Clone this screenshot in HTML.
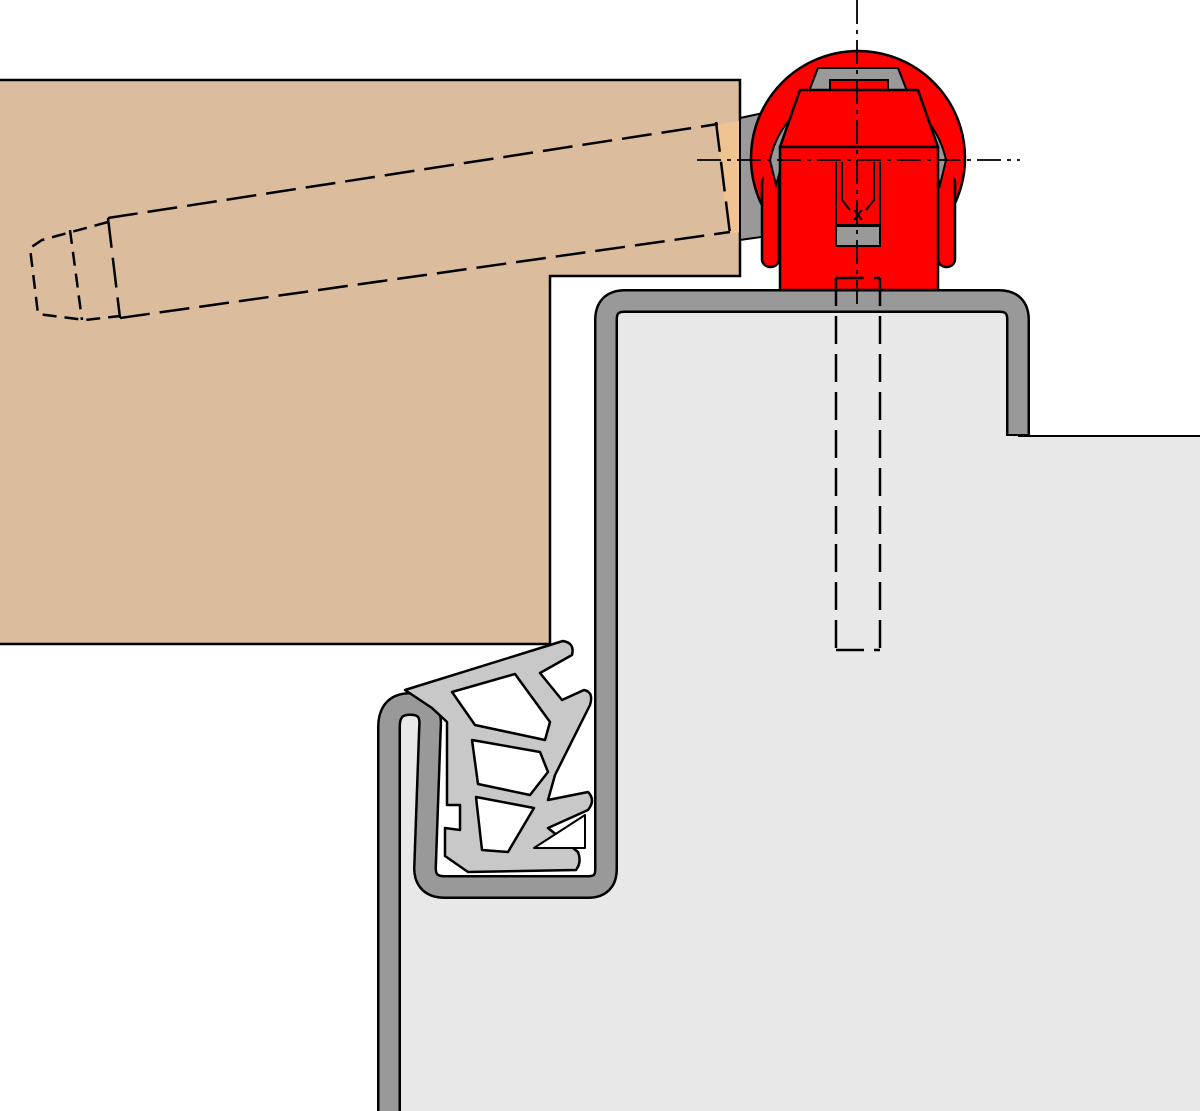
<!DOCTYPE html>
<html><head><style>html,body{margin:0;padding:0;background:#fff}svg{display:block}</style></head>
<body>
<svg width="1200" height="1111" viewBox="0 0 1200 1111" xmlns="http://www.w3.org/2000/svg">
<defs>
<clipPath id="top"><rect x="0" y="0" width="1200" height="205"/></clipPath>
</defs>
<polygon points="-5,80 740,80 740,276 550,276 550,644 -5,644" fill="#dbbd9e" stroke="#000" stroke-width="2.5"/>
<polygon points="716,125 740,121 740,232 728,234" fill="#f0c492"/>
<path d="M606,302 L1018,302 L1018,436 L1200,436 L1200,1111 L390,1111 L390,714 L430,714 L430,886 L606,886 Z" fill="#e8e8e8"/>
<line x1="1018" y1="436" x2="1200" y2="436" stroke="#000" stroke-width="2"/>
<path d="M440,725 L600,690 L600,874 L440,874 Z" fill="#fff"/>
<path d="M389,1115 L389,727 Q389,704 410,704 Q432,704 430,727 L425,868 Q425,887 445,887 L588,887 Q606,887 606,869 L606,320 Q606,301 625,301 L999,301 Q1018,301 1018,320 L1018,436" fill="none" stroke="#000" stroke-width="24"/>
<path d="M389,1115 L389,727 Q389,704 410,704 Q432,704 430,727 L425,868 Q425,887 445,887 L588,887 Q606,887 606,869 L606,320 Q606,301 625,301 L999,301 Q1018,301 1018,320 L1018,434" fill="none" stroke="#999" stroke-width="19"/>
<path d="M405,690 L563,641 Q575,643 572,655 L540,673 L562,700 L584,690 Q594,692 590,705 L555,775 L548,800 L588,792 Q596,800 588,810 L548,828 L578,852 Q582,862 576,870 L468,872 L445,856 L445,828 L460,830 L460,805 L447,805 L447,722 L432,708 Z" fill="#c8c8c8" stroke="#000" stroke-width="2.5" stroke-linejoin="round"/>
<path d="M452,692 L515,674 L550,722 L545,740 L475,725 Z" fill="#fff" stroke="#000" stroke-width="2.5" stroke-linejoin="round"/>
<path d="M472,740 L540,752 L548,772 L530,795 L478,784 Z" fill="#fff" stroke="#000" stroke-width="2.5" stroke-linejoin="round"/>
<path d="M476,797 L534,808 L508,852 L482,850 Z" fill="#fff" stroke="#000" stroke-width="2.5" stroke-linejoin="round"/>
<path d="M534,848 L585,815 L585,848 Z" fill="#fff" stroke="#000" stroke-width="2" stroke-linejoin="round"/>
<g fill="none" stroke="#000" stroke-width="2.5" stroke-dasharray="30,10">
<line x1="108" y1="218" x2="718" y2="124"/>
<line x1="120" y1="318" x2="730" y2="232"/>
<line x1="108" y1="218" x2="120" y2="318"/>
<line x1="716" y1="122" x2="730" y2="234"/>
</g>
<g fill="none" stroke="#000" stroke-width="2.5" stroke-dasharray="14,8">
<path d="M108,222 L42,240 L30,248 L38,314 L85,320 L120,316"/>
<line x1="70" y1="230" x2="82" y2="320"/>
</g>
<polygon points="740,118 768,112 768,236 740,240" fill="#999" stroke="#000" stroke-width="2"/>
<circle cx="858" cy="158" r="107" fill="#ff0000" stroke="#000" stroke-width="2.5" clip-path="url(#top)"/>
<rect x="762" y="175" width="17" height="92" rx="8" fill="#ff0000" stroke="#000" stroke-width="2.5"/>
<rect x="938" y="175" width="17" height="92" rx="8" fill="#ff0000" stroke="#000" stroke-width="2.5"/>
<rect x="764" y="170" width="13" height="40" fill="#ff0000"/>
<rect x="940" y="170" width="13" height="40" fill="#ff0000"/>
<path d="M770,160 A90,92 0 0 1 946,160 L940,185 L930,150 L898,68 L818,68 L786,150 L776,185 Z" fill="#999" stroke="#000" stroke-width="2"/>
<rect x="830" y="80" width="58" height="12" fill="#ff0000" stroke="#000" stroke-width="2"/>
<polygon points="800,90 918,90 938,147 780,147" fill="#ff0000" stroke="#000" stroke-width="2.5"/>
<rect x="780" y="147" width="158" height="143" fill="#ff0000" stroke="#000" stroke-width="2.5"/>
<path d="M836,162 L836,225 L880,225 L880,162 M842,162 L842,200 L850,210 M874,162 L874,200 L866,210" fill="none" stroke="#000" stroke-width="2"/>
<rect x="836" y="226" width="44" height="20" fill="#999" stroke="#000" stroke-width="2"/>
<text x="858" y="220" font-family="Liberation Sans, sans-serif" font-size="18" font-weight="bold" text-anchor="middle">x</text>
<g fill="none" stroke="#000" stroke-width="2.5" stroke-dasharray="28,10">
<line x1="836" y1="278" x2="836" y2="650"/>
<line x1="880" y1="278" x2="880" y2="650"/>
<line x1="836" y1="650" x2="880" y2="650"/>
<line x1="836" y1="278" x2="880" y2="278"/>
</g>
<g stroke="#000" stroke-width="1.8" stroke-dasharray="24,6,4,6" fill="none">
<line x1="857" y1="0" x2="857" y2="310"/>
<line x1="697" y1="160" x2="1020" y2="160"/>
</g>
</svg>
</body></html>
